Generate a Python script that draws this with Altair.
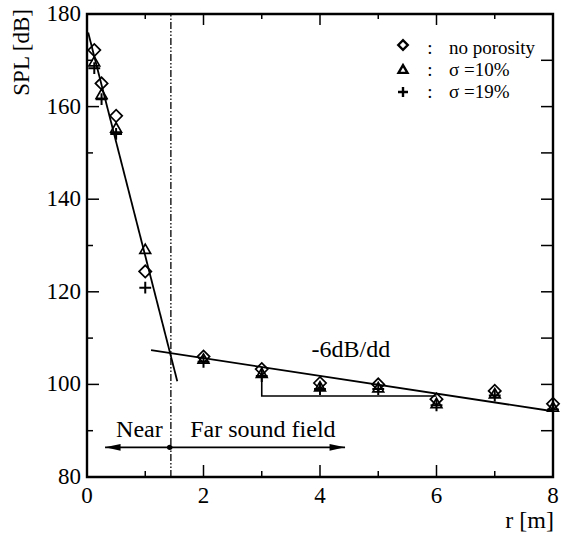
import altair as alt
import pandas as pd

# ---------------- data ----------------
r_vals = [0.125, 0.25, 0.5, 1, 2, 3, 4, 5, 6, 7, 8]
spl_no_porosity = [172.2, 165.0, 158.0, 124.4, 106.0, 103.3, 100.3, 100.0, 96.8, 98.6, 95.8]
spl_sigma10 = [169.8, 162.8, 155.5, 129.3, 105.6, 102.5, 99.6, 99.4, 96.0, 98.1, 95.2]
spl_sigma19 = [168.3, 161.6, 154.1, 120.9, 104.9, 101.8, 99.0, 99.0, 95.5, 97.6, 94.6]

near_fit_r = [0.02, 1.55]
near_fit_spl = [176.0, 100.7]
far_fit_r = [1.1, 8.0]
far_fit_spl = [107.4, 94.2]
bracket_r = [3, 3, 6]
bracket_spl = [103.8, 97.5, 97.5]
boundary_r = [1.44]
boundary_spl = [80, 180]
arrow_r = [0.31, 4.43]
arrow_spl = [86.4, 86.4]
dot_r = [1.42]
dot_spl = [86.4]

x_major = [0, 2, 4, 6, 8]
x_minor = [1, 3, 5, 7]
y_major = [80, 100, 120, 140, 160, 180]
y_minor = [90, 110, 130, 150, 170]

legend_labels = ["no porosity", "σ =10%", "σ =19%"]

FONT = "Liberation Serif, Times New Roman, DejaVu Serif, serif"
W, H = 466, 463
X0, X1, Y0, Y1 = 0, 8, 80, 180
XS = alt.Scale(domain=[X0, X1], nice=False, zero=False)
YS = alt.Scale(domain=[Y0, Y1], nice=False, zero=False)


def px_x(p):
    """pixel offset from plot left -> data r"""
    return X0 + p * (X1 - X0) / W


def px_y(p):
    """pixel offset from plot top -> data spl"""
    return Y1 - p * (Y1 - Y0) / H


def X(f):
    return alt.X(f"{f}:Q", scale=XS, axis=None)


def Y(f):
    return alt.Y(f"{f}:Q", scale=YS, axis=None)


PLUS = "M-1,0L1,0M0,-1L0,1"
ARROW_L = "M0,0L2,-0.45L2,0.45Z"
ARROW_R = "M0,0L-2,-0.45L-2,0.45Z"

layers = []


def text_layer(df, size, align="center", baseline="alphabetic", angle=0):
    kw = dict(font=FONT, fontSize=size, align=align, baseline=baseline, color="black")
    if angle:
        kw["angle"] = angle
    return alt.Chart(df).mark_text(**kw).encode(x=X("r"), y=Y("spl"), text="t:N")


# tick labels
xl_df = pd.DataFrame({"r": x_major, "spl": [px_y(H + 8)] * len(x_major), "t": [str(v) for v in x_major]})
layers.append(text_layer(xl_df, 23, "center", "top"))
yl_df = pd.DataFrame({"r": [px_x(-6)] * len(y_major), "spl": y_major, "t": [str(v) for v in y_major]})
layers.append(text_layer(yl_df, 23, "right", "middle"))


# inward ticks (lengths in px converted to data units)
def tick_layer(vals, side, length):
    if side in ("bottom", "top"):
        if side == "bottom":
            a, b = Y0, px_y(H - length)
        else:
            a, b = Y1, px_y(length)
        df = pd.DataFrame({"v": vals, "a": [a] * len(vals), "b": [b] * len(vals)})
        return alt.Chart(df).mark_rule(color="black", strokeWidth=1.5).encode(
            x=X("v"), y=Y("a"), y2="b:Q"
        )
    if side == "left":
        a, b = X0, px_x(length)
    else:
        a, b = X1, px_x(W - length)
    df = pd.DataFrame({"v": vals, "a": [a] * len(vals), "b": [b] * len(vals)})
    return alt.Chart(df).mark_rule(color="black", strokeWidth=1.5).encode(
        y=Y("v"), x=X("a"), x2="b:Q"
    )


layers += [
    tick_layer(x_major, "bottom", 12), tick_layer(x_minor, "bottom", 6),
    tick_layer(x_major, "top", 11), tick_layer(x_minor, "top", 5),
    tick_layer(y_major, "left", 12), tick_layer(y_minor, "left", 6),
    tick_layer(y_major, "right", 12), tick_layer(y_minor, "right", 12),
]

# near/far boundary (dash-dot-dot)
bdf = pd.DataFrame({"r": boundary_r, "a": [boundary_spl[0]], "b": [boundary_spl[1]]})
layers.append(
    alt.Chart(bdf).mark_rule(color="black", strokeWidth=1.3, strokeDash=[7, 2, 1.5, 2, 1.5, 2]).encode(
        x=X("r"), y=Y("a"), y2="b:Q"
    )
)


# fit lines
def line_layer(rs, ss, sw=1.8):
    df = pd.DataFrame({"r": rs, "spl": ss, "o": list(range(len(rs)))})
    return alt.Chart(df).mark_line(color="black", strokeWidth=sw).encode(
        x=X("r"), y=Y("spl"), order="o:Q"
    )


layers.append(line_layer(near_fit_r, near_fit_spl))
layers.append(line_layer(far_fit_r, far_fit_spl))
layers.append(line_layer(bracket_r, bracket_spl, 1.6))
layers.append(line_layer(arrow_r, arrow_spl, 1.6))

# arrowheads and dot
adf_l = pd.DataFrame({"r": [arrow_r[0]], "spl": [arrow_spl[0]]})
adf_r = pd.DataFrame({"r": [arrow_r[1]], "spl": [arrow_spl[1]]})
layers.append(alt.Chart(adf_l).mark_point(shape=ARROW_L, filled=True, color="black", size=240, opacity=1).encode(x=X("r"), y=Y("spl")))
layers.append(alt.Chart(adf_r).mark_point(shape=ARROW_R, filled=True, color="black", size=240, opacity=1).encode(x=X("r"), y=Y("spl")))
ddf = pd.DataFrame({"r": dot_r, "spl": dot_spl})
layers.append(alt.Chart(ddf).mark_circle(color="black", size=30, opacity=1).encode(x=X("r"), y=Y("spl")))


# data points
def pts(vals, shape, size, sw=1.7, xs=None):
    df = pd.DataFrame({"r": xs if xs is not None else r_vals, "spl": vals})
    return alt.Chart(df).mark_point(shape=shape, filled=False, color="black", strokeWidth=sw, size=size, opacity=1).encode(
        x=X("r"), y=Y("spl")
    )


layers.append(pts(spl_no_porosity, "diamond", 150))
layers.append(pts(spl_sigma10, "triangle-up", 115))
layers.append(pts(spl_sigma19, PLUS, 140, sw=2))

# legend (placed in the upper right, positions converted from pixels)
leg_shapes = ["diamond", "triangle-up", PLUS]
leg_sizes = [90, 80, 100]
leg_marker_y = [31, 55, 78]
leg_text_y = [40, 62, 84]
for shp, sz, my in zip(leg_shapes, leg_sizes, leg_marker_y):
    layers.append(pts([px_y(my)], shp, sz, sw=2.4, xs=[px_x(316)]))

colon_df = pd.DataFrame({"r": [px_x(343)] * 3, "spl": [px_y(t) for t in leg_text_y], "t": [":"] * 3})
layers.append(text_layer(colon_df, 19, "center"))
leg_df = pd.DataFrame({"r": [px_x(362)] * 3, "spl": [px_y(t) for t in leg_text_y], "t": legend_labels})
layers.append(text_layer(leg_df, 19, "left"))

# annotations in data coordinates
ann_df = pd.DataFrame({
    "r": [0.90, 3.02, 4.53],
    "spl": [88.6, 88.6, 105.9],
    "t": ["Near", "Far sound field", "-6dB/dd"],
})
layers.append(text_layer(ann_df, 24, "center"))

# axis titles
ytitle_df = pd.DataFrame({"r": [px_x(-65)], "spl": [px_y(-5)], "t": ["SPL [dB]"]})
layers.append(text_layer(ytitle_df, 23, "right", "middle", angle=270))
xtitle_df = pd.DataFrame({"r": [px_x(467)], "spl": [px_y(507)], "t": ["r [m]"]})
layers.append(text_layer(xtitle_df, 24, "right", "middle"))

chart = alt.layer(*layers).properties(
    width=W, height=H,
    padding={"left": 87, "top": 14, "right": 14, "bottom": 59},
    autosize=alt.AutoSizeParams(type="none"),
    background="white",
).configure(
    font=FONT
).configure_text(
    font=FONT
).configure_view(
    stroke="black", strokeWidth=2.4
)

chart.save("out.html", embed_options={"renderer": "svg", "actions": False})
